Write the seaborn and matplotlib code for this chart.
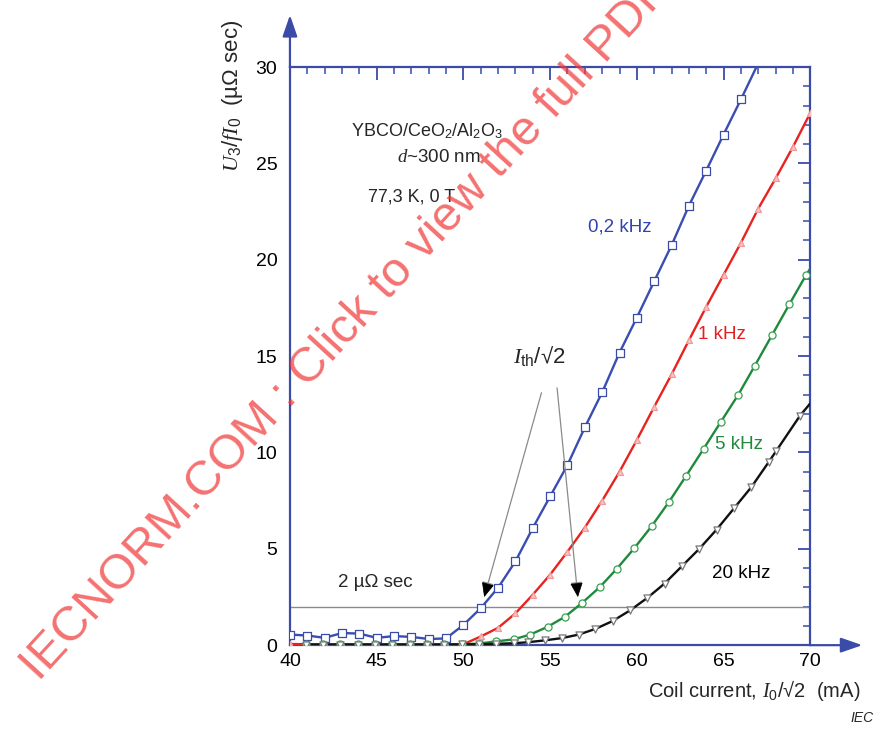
import matplotlib
matplotlib.use("Agg")
import matplotlib.pyplot as plt
import pandas as pd
import seaborn as sns
from matplotlib.ticker import MultipleLocator

# Third-harmonic voltage U3/(f I0) in µΩ s versus coil current I0/√2 in mA
current_02k = [40, 41, 42, 43, 44, 45, 46, 47, 48, 49, 50, 51, 52, 53, 54,
               55, 56, 57, 58, 59, 60, 61, 62, 63, 64, 65, 66, 67]
u3_02k = [0.55, 0.50, 0.38, 0.63, 0.60, 0.38, 0.47, 0.43, 0.32, 0.35, 1.05,
          1.92, 2.98, 4.35, 6.08, 7.72, 9.35, 11.30, 13.12, 15.18, 17.00,
          18.88, 20.75, 22.80, 24.63, 26.50, 28.32, 30.20]

current_1k = [40, 41, 42, 43, 44, 45, 46, 47, 48, 49, 50, 51, 52, 53, 54,
              55, 56, 57, 58, 59, 60, 61, 62, 63, 64, 65, 66, 67, 68, 69, 70]
u3_1k = [0.06, 0.05, 0.05, 0.05, 0.04, 0.05, 0.05, 0.04, 0.05, 0.05, 0.05,
         0.45, 0.90, 1.65, 2.62, 3.66, 4.85, 6.10, 7.50, 9.00, 10.65, 12.37,
         14.05, 15.82, 17.56, 19.22, 20.88, 22.66, 24.22, 25.86, 27.62]

current_5k = [40.9, 41.9, 42.9, 43.9, 44.9, 45.9, 46.9, 47.9, 48.9, 49.9,
              50.9, 51.9, 52.9, 53.85, 54.85, 55.85, 56.85, 57.85, 58.85,
              59.85, 60.85, 61.85, 62.85, 63.85, 64.85, 65.85, 66.8, 67.8,
              68.8, 69.75, 70.0]
u3_5k = [0.04, 0.04, 0.05, 0.04, 0.04, 0.05, 0.04, 0.04, 0.05, 0.05, 0.08,
         0.20, 0.30, 0.55, 0.95, 1.47, 2.20, 3.00, 3.97, 5.03, 6.17, 7.43,
         8.80, 10.19, 11.60, 13.00, 14.50, 16.10, 17.70, 19.20, 19.55]

current_20k = [40.9, 41.9, 42.9, 43.9, 44.9, 45.9, 46.9, 47.9, 48.9, 49.9,
               50.9, 51.9, 52.9, 53.7, 54.7, 55.7, 56.65, 57.6, 58.6, 59.6,
               60.6, 61.6, 62.6, 63.6, 64.6, 65.6, 66.6, 67.6, 68.05, 69.4,
               70.0]
u3_20k = [0.03, 0.03, 0.03, 0.03, 0.03, 0.03, 0.03, 0.03, 0.03, 0.04, 0.05,
          0.07, 0.10, 0.15, 0.25, 0.37, 0.55, 0.84, 1.25, 1.80, 2.45, 3.20,
          4.10, 5.00, 6.00, 7.10, 8.20, 9.50, 10.10, 11.90, 12.55]

threshold = 2.0  # µΩ s criterion for I_th

AXIS_BLUE = "#3b4ba8"
sns.set_style("white")
plt.rcParams["font.family"] = ["Liberation Sans", "DejaVu Sans"]
plt.rcParams["mathtext.fontset"] = "custom"
plt.rcParams["mathtext.it"] = "Liberation Serif:italic"
plt.rcParams["mathtext.rm"] = "Liberation Sans"
plt.rcParams["mathtext.default"] = "it"

fig = plt.figure(figsize=(8.76, 7.29), dpi=100)
ax = fig.add_axes([0.331, 0.115, 0.594, 0.793])

series = [
    ("0,2 kHz", current_02k, u3_02k, "#3a4db0", "s", AXIS_BLUE, "white", 32, -1),
    ("1 kHz", current_1k, u3_1k, "#e8231f", "^", "#f29a9a", "#f9c4c4", 18, None),
    ("5 kHz", current_5k, u3_5k, "#1f8a3b", "o", "#3aa050", "white", 26, -1),
    ("20 kHz", current_20k, u3_20k, "#111111", "v", "#777777", "white", 26, -1),
]
for name, cur, u3, lc, mk, mec, mfc, ms, stop in series:
    df = pd.DataFrame({"current": cur, "u3": u3})
    sns.lineplot(data=df, x="current", y="u3", sort=False, color=lc, lw=1.7,
                 ax=ax, zorder=3)
    pts = df.iloc[:stop] if stop else df
    sns.scatterplot(data=pts, x="current", y="u3", marker=mk, s=ms,
                    facecolor=mfc, edgecolor=mec, linewidth=0.9, ax=ax,
                    zorder=4)

ax.axhline(threshold, color="#8a8a8a", lw=1.0, zorder=2)

ax.set_xlim(40, 70)
ax.set_ylim(0, 30)
ax.xaxis.set_major_locator(MultipleLocator(5))
ax.xaxis.set_minor_locator(MultipleLocator(1))
ax.yaxis.set_major_locator(MultipleLocator(5))
ax.yaxis.set_minor_locator(MultipleLocator(1))
ax.tick_params(which="both", direction="in", top=True, right=True,
               color=AXIS_BLUE, labelsize=14, labelcolor="black")
ax.tick_params(which="major", length=9, width=1.3)
ax.tick_params(which="minor", length=5, width=1.1)
ax.tick_params(axis="y", pad=9)
ax.tick_params(axis="x", pad=6)
for sp in ax.spines.values():
    sp.set_color(AXIS_BLUE)
    sp.set_linewidth(1.6)
ax.set_xlabel("")
ax.set_ylabel("")

# arrow heads extending the two data axes
arrow_kw = dict(arrowstyle="-|>,head_length=1.3,head_width=0.45",
                color=AXIS_BLUE, lw=1.6, shrinkA=0, shrinkB=0)
ax.annotate("", xy=(0, 1.09), xytext=(0, 1.0), xycoords="axes fraction",
            arrowprops=arrow_kw, annotation_clip=False)
ax.annotate("", xy=(1.1, 0), xytext=(1.0, 0), xycoords="axes fraction",
            arrowprops=arrow_kw, annotation_clip=False)

ax.text(-0.11, 0.95, r"$U_3/fI_0$  (µΩ sec)", rotation=90, ha="center",
        va="center", fontsize=16, transform=ax.transAxes)
ax.text(0.893, -0.078, r"Coil current, $I_0$/√2  (mA)", ha="center",
        va="center", fontsize=14.5, transform=ax.transAxes)
fig.text(0.997, 0.006, "IEC", ha="right", va="bottom", fontsize=10,
         style="italic")

ax.text(47.9, 26.7, r"YBCO/CeO$_2$/Al$_2$O$_3$", ha="center", va="center",
        fontsize=13)
ax.text(48.6, 25.3, r"$d$~300 nm", ha="center", va="center", fontsize=13.5)
ax.text(47.0, 23.25, "77,3 K, 0 T", ha="center", va="center", fontsize=13)

ax.text(59.0, 21.7, "0,2 kHz", color="#3143b0", ha="center", va="center",
        fontsize=13.5)
ax.text(64.9, 16.1, "1 kHz", color="#e02020", ha="center", va="center",
        fontsize=13.5)
ax.text(65.9, 10.4, "5 kHz", color="#1f8a3b", ha="center", va="center",
        fontsize=13.5)
ax.text(66.0, 3.7, "20 kHz", color="black", ha="center", va="center",
        fontsize=13.5)
ax.text(44.9, 3.27, f"{threshold:.0f} µΩ sec", ha="center", va="center",
        fontsize=13.5)

ax.text(54.4, 15.0, r"$I_{\mathrm{th}}$/√2", ha="center", va="center",
        fontsize=16)
ith_kw = dict(arrowstyle="-|>,head_length=0.9,head_width=0.35",
              color="#8a8a8a", lw=0.9, shrinkA=0, shrinkB=0)
for tail, tip in [((54.5, 13.1), (51.2, 2.5)), ((55.4, 13.35), (56.6, 2.5))]:
    ax.annotate("", xy=tip, xytext=tail, arrowprops=ith_kw, zorder=5)
    ax.annotate("", xy=tip, xytext=(tip[0] + (tail[0] - tip[0]) * 0.06,
                                    tip[1] + (tail[1] - tip[1]) * 0.06),
                arrowprops=dict(arrowstyle="-|>,head_length=0.9,head_width=0.4",
                                color="black", lw=0.5, shrinkA=0, shrinkB=0),
                zorder=6)

fig.text(0.045, 0.064, "IECNORM.COM : Click to view the full PDF",
         rotation=47.5, rotation_mode="anchor", ha="left", va="baseline",
         fontsize=35, color="#f03a3a", alpha=0.72, zorder=10)

fig.savefig("out.png", dpi=100, facecolor="white")
